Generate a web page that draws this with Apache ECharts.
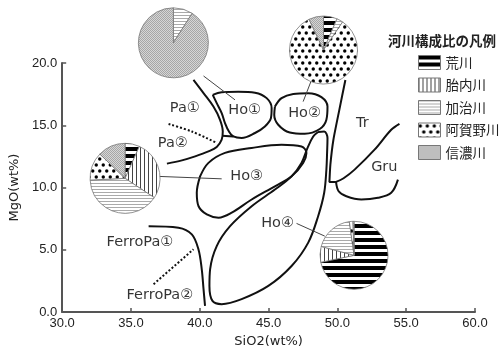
<!DOCTYPE html>
<html><head><meta charset="utf-8">
<script src="https://cdn.jsdelivr.net/npm/echarts@6/dist/echarts.min.js"></script>
<style>html,body{margin:0;padding:0;background:#fff}#c{width:502px;height:353px}</style>
</head><body><div id="c"></div>
<script>
// ---------- data ----------
const xTicks = [30, 35, 40, 45, 50, 55, 60];
const yTicks = [0, 5, 10, 15, 20];
const xName = 'SiO2(wt%)';
const yName = 'MgO(wt%)';

const riverNames = ['荒川', '胎内川', '加治川', '阿賀野川', '信濃川'];
const legendTitle = '河川構成比の凡例';

// pie compositions (%), order = riverNames
const pieHo1 = [0, 0, 9, 0, 91];
const pieHo2 = [6.5, 0, 3, 83.5, 7];
const pieHo3 = [6.7, 27.6, 39.9, 13, 12.8];
const pieHo4 = [71.7, 7.5, 18.6, 1.7, 0.5];
// pie centres in data coordinates [SiO2, MgO]
const pieCenters = [[38.08, 21.62], [48.99, 21.04], [34.57, 10.74], [51.21, 4.56]];

// field boundaries [SiO2, MgO]
const paLine = [[39.54,18.64],[40.27,17.58],[40.99,16.50],[41.47,15.44],[41.67,14.50],[41.59,13.84],[41.23,13.26],[40.63,12.90],[39.66,12.50],[38.70,12.18],[37.61,11.92]];
const ho1 = [[40.94,17.44],[41.59,17.66],[42.80,17.70],[44.01,17.62],[44.86,17.18],[45.22,16.38],[45.17,15.58],[44.73,14.90],[44.01,14.38],[43.04,13.98],[42.44,14.10],[42.12,14.50],[41.83,15.18],[41.59,15.98],[41.23,16.78],[40.94,17.44]];
const ho1Link = [[41.62,14.15],[42.44,14.10]];
const ho2 = [[45.46,16.50],[45.94,17.18],[46.79,17.52],[47.88,17.58],[48.84,17.26],[49.28,16.50],[49.20,15.44],[48.72,14.70],[47.63,14.32],[46.54,14.42],[45.70,15.04],[45.41,15.84],[45.46,16.50]];
const ho3 = [[40.02,10.90],[40.63,11.98],[41.83,12.78],[43.77,13.18],[45.94,13.44],[47.39,13.30],[47.75,12.78],[47.51,11.98],[46.67,10.90],[45.46,10.10],[43.77,9.04],[42.32,7.98],[41.36,7.58],[40.51,7.84],[39.91,8.50],[39.78,9.58],[40.02,10.90]];
const ho4 = [[48.60,14.46],[49.04,14.50],[49.28,13.98],[49.25,12.78],[49.20,11.44],[49.04,9.58],[48.60,7.70],[47.88,5.58],[46.67,3.70],[44.98,2.10],[43.04,1.04],[41.59,0.64],[40.92,0.90],[40.70,2.10],[40.75,3.44],[41.23,5.30],[42.20,6.90],[43.77,8.50],[45.46,9.84],[46.67,10.90],[47.39,11.98],[47.83,13.18],[48.24,14.10],[48.60,14.46]];
const trLine = [[50.58,18.64],[50.14,16.24],[49.71,13.84],[49.49,11.84],[49.42,10.45],[49.90,10.45]];
const gruUpper = [[49.90,10.45],[50.45,10.75],[51.25,11.44],[52.70,13.04],[53.91,14.64],[54.51,15.12]];
const gruLower = [[49.90,10.45],[50.09,9.70],[50.65,9.30],[51.74,9.04],[52.95,9.18],[53.91,9.58],[54.40,10.64]];
const ferroPa1Line = [[36.28,6.90],[38.45,6.78],[39.42,6.24],[39.90,5.04],[40.14,3.46],[40.27,1.86],[40.38,0.50]];
const pa2Dotted = [[37.73,15.10],[39.42,14.50],[41.23,13.58]];
const ferroPa2Dotted = [[36.64,2.24],[39.54,5.04]];
// pie leader lines
const leaders = [
  [[40.27,18.96],[42.56,17.04]],
  [[48.12,18.64],[47.51,16.90]],
  [[36.88,10.90],[41.59,10.70]],
  [[47.03,7.12],[49.08,6.10]]
];
// field labels
const fieldNames = ['Pa①','Pa②','Ho①','Ho②','Ho③','Ho④','Tr','Gru','FerroPa①','FerroPa②'];
const fieldPos = [[38.91,16.40],[38.04,13.52],[43.26,16.24],[47.61,16.00],[43.41,10.88],[45.65,7.12],[51.81,15.20],[53.41,11.60],[35.65,5.60],[37.10,1.36]];

// ---------- styles ----------
function pattern(w, h, draw) {
  const c = document.createElement('canvas');
  c.width = w; c.height = h;
  const g = c.getContext('2d');
  g.fillStyle = '#fff'; g.fillRect(0, 0, w, h);
  draw(g);
  return { image: c, repeat: 'repeat' };
}
const fills = [
  pattern(4, 7, g => { g.fillStyle = '#000'; g.fillRect(0, 0, 4, 4); }),
  pattern(4, 4, g => { g.fillStyle = '#444'; g.fillRect(0, 0, 1, 4); }),
  pattern(4, 3, g => { g.fillStyle = '#aaa'; g.fillRect(0, 0, 4, 1); }),
  pattern(7, 12, g => { g.fillStyle = '#000'; g.beginPath(); g.arc(1.75, 3, 1.7, 0, 7); g.fill(); g.beginPath(); g.arc(5.25, 9, 1.7, 0, 7); g.fill(); }),
  pattern(2, 2, g => { g.fillStyle = '#d6d6d6'; g.fillRect(0, 0, 2, 2); g.fillStyle = '#a6a6a6'; g.fillRect(0, 0, 1, 1); g.fillRect(1, 1, 1, 1); })
];
const pieRadius = [35, 34, 35, 34];
const LF = 'DejaVu Sans, Noto Sans CJK JP, sans-serif';
const CJK = 'Noto Sans CJK JP, sans-serif';

const chart = echarts.init(document.getElementById('c'), null, { renderer: 'canvas' });

const grid = { left: 60, right: 27, top: 63, bottom: 40, containLabel: false };
const axisCommon = {
  type: 'value',
  interval: 5,
  splitLine: { show: false },
  axisLine: { lineStyle: { color: '#555', width: 2 } },
  axisTick: { inside: true, length: 4, lineStyle: { color: '#555', width: 1.5 } },
  axisLabel: { color: '#222', fontSize: 13, fontFamily: 'Liberation Sans, Arial, sans-serif', formatter: v => v.toFixed(1) },
  nameTextStyle: { color: '#222', fontSize: 13, fontFamily: LF }
};
const xAxis = Object.assign({}, axisCommon, {
  min: xTicks[0], max: xTicks[xTicks.length - 1],
  name: xName, nameLocation: 'middle', nameGap: 22,
  axisLabel: Object.assign({}, axisCommon.axisLabel, { margin: 5 })
});
const yAxis = Object.assign({}, axisCommon, {
  min: yTicks[0], max: yTicks[yTicks.length - 1],
  name: yName, nameLocation: 'middle', nameGap: 40, nameRotate: 90,
  axisLabel: Object.assign({}, axisCommon.axisLabel, { margin: 5 })
});

chart.setOption({ animation: false, grid, xAxis, yAxis });

function lineSeries(data, opts) {
  return Object.assign({
    type: 'line', data, showSymbol: false, symbol: 'none', smooth: 0.35,
    lineStyle: { color: '#111', width: 2 }, z: 2, silent: true, animation: false
  }, opts || {});
}

const series = [
  lineSeries(paLine),
  lineSeries(ho1),
  lineSeries(ho1Link, { smooth: false }),
  lineSeries(ho2),
  lineSeries(ho3),
  lineSeries(ho4),
  lineSeries(trLine, { smooth: 0.2 }),
  lineSeries(gruUpper),
  lineSeries(gruLower),
  lineSeries(ferroPa1Line),
  lineSeries(pa2Dotted, { lineStyle: { color: '#111', width: 2, type: [2, 2] } }),
  lineSeries(ferroPa2Dotted, { smooth: false, lineStyle: { color: '#111', width: 2, type: [2, 2] } })
];
leaders.forEach(l => series.push(lineSeries(l, { smooth: false, lineStyle: { color: '#444', width: 1 } })));

series.push({
  type: 'scatter', symbolSize: 0, z: 5, silent: true,
  data: fieldNames.map((n, i) => ({ name: n, value: fieldPos[i] })),
  label: { show: true, position: 'inside', formatter: p => p.name, color: '#000', fontSize: 14.5, fontFamily: LF }
});

const pies = [pieHo1, pieHo2, pieHo3, pieHo4];
pies.forEach((vals, k) => {
  const c = chart.convertToPixel({ gridIndex: 0 }, pieCenters[k]);
  series.push({
    type: 'pie', center: c, radius: pieRadius[k], startAngle: 90, clockwise: true,
    z: 4, silent: true, animation: false,
    label: { show: false }, labelLine: { show: false }, emphasis: { disabled: true },
    itemStyle: { borderColor: '#777', borderWidth: 0.8 },
    data: vals.map((v, i) => ({ name: riverNames[i], value: v, itemStyle: { color: fills[i] } })).filter(d => d.value > 0)
  });
});

chart.setOption({
  animation: false,
  grid, xAxis, yAxis,
  title: { text: legendTitle, left: 388, top: 34, padding: 0,
    textStyle: { fontSize: 13.5, fontWeight: 'bold', color: '#222', fontFamily: CJK } },
  legend: {
    orient: 'vertical', left: 418, top: 55, padding: 0,
    itemWidth: 22, itemHeight: 14, itemGap: 7.5, icon: 'rect', selectedMode: false,
    data: riverNames,
    itemStyle: { borderColor: '#777', borderWidth: 1 },
    textStyle: { fontSize: 13.5, color: '#222', fontFamily: CJK, padding: [0, 0, 0, 0] }
  },
  series
}, true);
</script></body></html>
